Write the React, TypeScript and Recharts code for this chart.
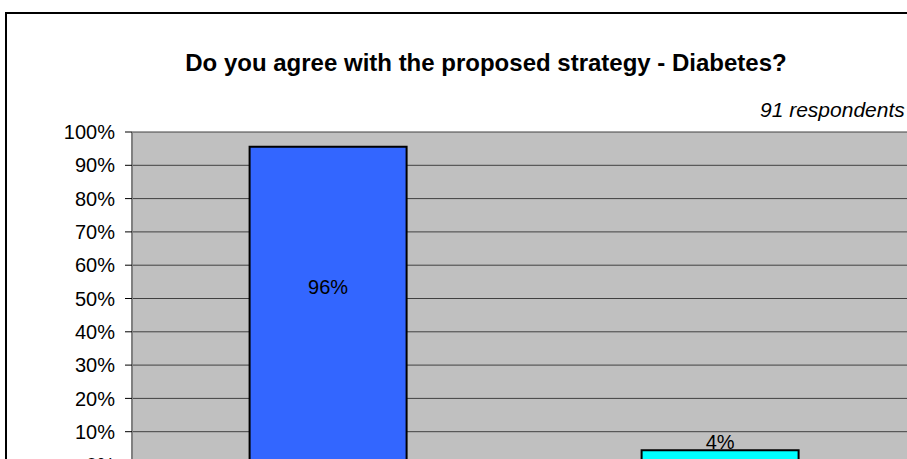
import { BarChart, Bar, XAxis, YAxis, CartesianGrid, Cell, LabelList } from 'recharts';

const FONT = "'Liberation Sans', Arial, sans-serif";

const categories = ['Yes', 'No'];
const shares = [0.956, 0.044];
const valueLabels = ['96%', '4%'];
const barColors = ['#3366FF', '#00FFFF'];
const yTicks = [0, 0.1, 0.2, 0.3, 0.4, 0.5, 0.6, 0.7, 0.8, 0.9, 1];

const data = categories.map((name, i) => ({ name, share: shares[i], label: valueLabels[i] }));

// tall bar: label inside, short bar: label sitting on top
const renderValueLabel = (props: any) => {
  const x = Number(props.x);
  const y = Number(props.y);
  const w = Number(props.width);
  const h = Number(props.height);
  const cx = x + w / 2;
  if (h > 60) {
    return (
      <text x={cx} y={y + h * 0.44} dy="0.35em" textAnchor="middle" fontSize={20} fontFamily={FONT} fill="#000">
        {props.value}
      </text>
    );
  }
  return (
    <text x={cx} y={y - 1} textAnchor="middle" fontSize={20} fontFamily={FONT} fill="#000">
      {props.value}
    </text>
  );
};

export default function App() {
  return (
    <div style={{ position: 'fixed', left: 0, top: 0, width: 907, height: 459, overflow: 'hidden', background: '#fff' }}>
      <div style={{ position: 'absolute', left: 5, top: 12, width: 1000, height: 600, border: '2px solid #000', boxSizing: 'border-box' }} />
      <div style={{ position: 'absolute', left: 7, top: 14 }}>
        <BarChart width={909} height={491} data={data} margin={{ top: 118, right: 0, left: 0, bottom: 10 }} barCategoryGap="30%">
          <CartesianGrid vertical={false} fill="#C0C0C0" stroke="#404040" strokeWidth={1} />
          <XAxis dataKey="name" height={30} tickLine={false} axisLine={{ stroke: '#000' }} tick={{ fontSize: 20, fontFamily: FONT, fill: '#000' }} />
          <YAxis
            width={125}
            domain={[0, 1]}
            ticks={yTicks}
            interval={0}
            tickFormatter={(v: number) => `${Math.round(v * 100)}%`}
            tickSize={7}
            tickMargin={10}
            tickLine={{ stroke: '#000' }}
            axisLine={{ stroke: '#808080', strokeWidth: 2 }}
            tick={{ fontSize: 20, fontFamily: FONT, fill: '#000' }}
          />
          <Bar dataKey="share" stroke="#000" strokeWidth={2} isAnimationActive={false}>
            {data.map((d, i) => (
              <Cell key={d.name} fill={barColors[i]} />
            ))}
            <LabelList dataKey="label" content={renderValueLabel} />
          </Bar>
        </BarChart>
      </div>
      <svg width={907} height={459} style={{ position: 'absolute', left: 0, top: 0, pointerEvents: 'none' }}>
        <text x={486} y={71} textAnchor="middle" fontSize={24} fontWeight="bold" fontFamily={FONT} fill="#000">
          Do you agree with the proposed strategy - Diabetes?
        </text>
        <text x={760} y={117} fontSize={21} fontStyle="italic" fontFamily={FONT} fill="#000">
          91 respondents
        </text>
      </svg>
    </div>
  );
}
